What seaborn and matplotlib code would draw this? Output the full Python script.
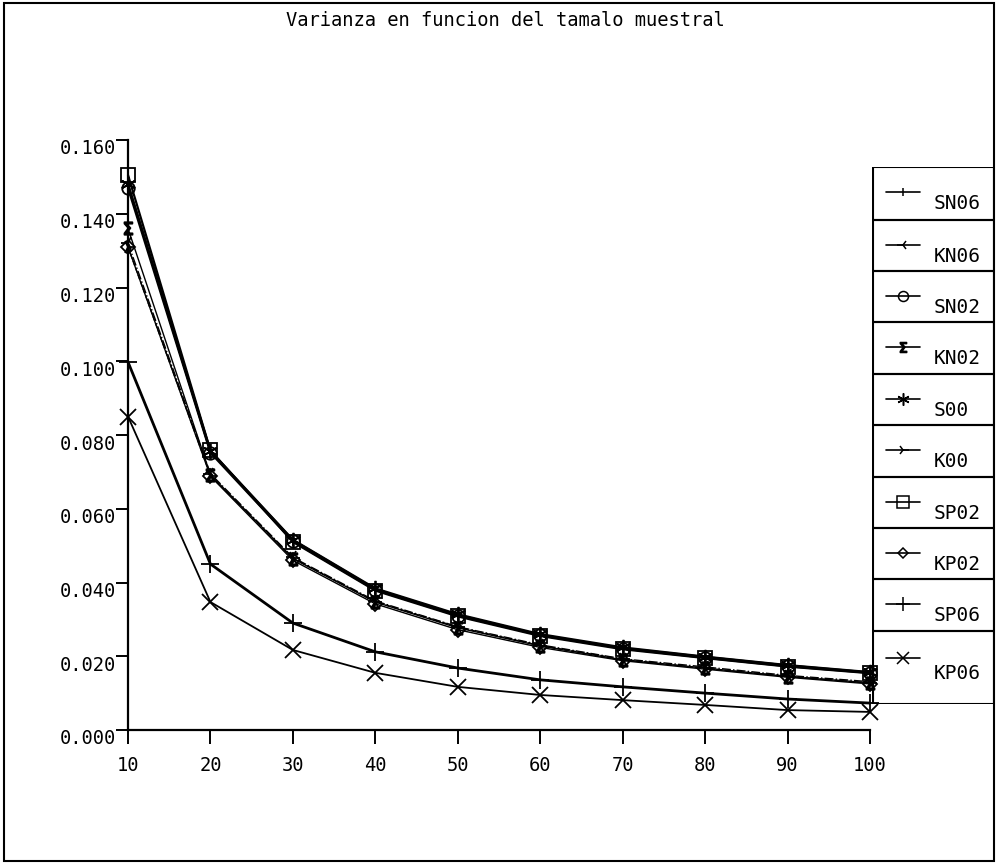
import matplotlib
matplotlib.use("Agg")
import matplotlib.pyplot as plt
import matplotlib.transforms as mtransforms
from matplotlib.patches import Rectangle
from matplotlib.lines import Line2D
import seaborn as sns
import pandas as pd

# tamano muestral
n = [10, 20, 30, 40, 50, 60, 70, 80, 90, 100]

# varianzas
SN06 = [0.1480, 0.0755, 0.0515, 0.0382, 0.0312, 0.0258, 0.0222, 0.0198, 0.0175, 0.0156]
KN06 = [0.1320, 0.0695, 0.0468, 0.0350, 0.0280, 0.0231, 0.0193, 0.0171, 0.0148, 0.0131]
SN02 = [0.1470, 0.0752, 0.0512, 0.0380, 0.0310, 0.0257, 0.0221, 0.0196, 0.0173, 0.0155]
KN02 = [0.1360, 0.0692, 0.0465, 0.0347, 0.0277, 0.0228, 0.0190, 0.0168, 0.0145, 0.0128]
S00 = [0.1480, 0.0757, 0.0516, 0.0384, 0.0314, 0.0260, 0.0224, 0.0199, 0.0176, 0.0157]
K00 = [0.1310, 0.0690, 0.0466, 0.0348, 0.0279, 0.0229, 0.0192, 0.0167, 0.0146, 0.0127]
SP02 = [0.1505, 0.0758, 0.0510, 0.0378, 0.0308, 0.0255, 0.0219, 0.0195, 0.0172, 0.0154]
KP02 = [0.1310, 0.0688, 0.0460, 0.0342, 0.0272, 0.0224, 0.0188, 0.0165, 0.0143, 0.0125]
SP06 = [0.0998, 0.0450, 0.0290, 0.0212, 0.0168, 0.0136, 0.0117, 0.0100, 0.0084, 0.0073]
KP06 = [0.0850, 0.0347, 0.0217, 0.0155, 0.0117, 0.0095, 0.0081, 0.0068, 0.0054, 0.0049]

series_names = ["SN06", "KN06", "SN02", "KN02", "S00", "K00", "SP02", "KP02", "SP06", "KP06"]
series_values = [SN06, KN06, SN02, KN02, S00, K00, SP02, KP02, SP06, KP06]

title = "Varianza en funcion del tamalo muestral"
yticks = [0.0, 0.02, 0.04, 0.06, 0.08, 0.10, 0.12, 0.14, 0.16]

# estilo de cada serie: marcador, tamano, grosor, trazo
styles = {
    "SN06": dict(marker="|", ms=8, lw=1.6, ls="-"),
    "KN06": dict(marker="3", ms=10, lw=1.0, ls="-."),
    "SN02": dict(marker="o", ms=9, lw=1.6, ls="-"),
    "KN02": dict(marker="$\\Sigma$", ms=9, lw=1.0, ls="-"),
    "S00": dict(marker=(6, 2, 0), ms=11, lw=1.6, ls="-"),
    "K00": dict(marker="4", ms=10, lw=1.0, ls="--"),
    "SP02": dict(marker="s", ms=10, lw=1.6, ls="-"),
    "KP02": dict(marker="D", ms=7, lw=1.0, ls="-"),
    "SP06": dict(marker="+", ms=13, lw=2.0, ls="-"),
    "KP06": dict(marker="x", ms=11, lw=1.3, ls="-"),
}

df = pd.DataFrame({"n": n})
for name, vals in zip(series_names, series_values):
    df[name] = vals
df_long = df.melt(id_vars="n", var_name="serie", value_name="varianza")

sns.set_style("white")
plt.rcParams["font.family"] = ["DejaVu Sans Mono", "DejaVu Sans"]

fig = plt.figure(figsize=(9.97, 8.65), dpi=100)
ax = fig.add_axes([128 / 997, 135 / 865, 742 / 997, 590 / 865])

for name in series_names:
    st = styles[name]
    sub = df_long[df_long["serie"] == name]
    sns.lineplot(data=sub, x="n", y="varianza", ax=ax, color="black",
                 marker=st["marker"], markersize=st["ms"], linewidth=st["lw"],
                 linestyle=st["ls"], markerfacecolor="none", markeredgecolor="black",
                 markeredgewidth=1.3, legend=False, zorder=3, clip_on=False)

ax.set_xlim(10, 100)
ax.set_ylim(0, 0.16)
ax.set_xticks(n)
ax.set_xticklabels([str(v) for v in n])
ax.set_yticks(yticks)
ax.set_yticklabels(["%.3f" % v for v in yticks])
ax.set_xlabel("")
ax.set_ylabel("")
for side in ["top", "right"]:
    ax.spines[side].set_visible(False)
for side in ["left", "bottom"]:
    ax.spines[side].set_color("black")
    ax.spines[side].set_linewidth(1.6)
ax.tick_params(axis="x", direction="out", length=10, width=1.4, pad=9,
               labelsize=13.5, colors="black", bottom=True)
ax.tick_params(axis="y", direction="out", length=9, width=1.4, pad=0,
               labelsize=13.5, colors="black", left=True)
offset = mtransforms.ScaledTranslation(0, -7 / 100, fig.dpi_scale_trans)
for lab in ax.get_yticklabels():
    lab.set_transform(lab.get_transform() + offset)

# leyenda en cajas apiladas
leg = fig.add_axes([872 / 997, (865 - 704) / 865, 123 / 997, 537 / 865])
leg.set_xlim(872, 995)
leg.set_ylim(704, 167)
leg.axis("off")
edges = [167, 220, 271, 322, 374, 425, 477, 528, 579, 631, 704]
for i, name in enumerate(series_names):
    top, bot = edges[i], edges[i + 1]
    leg.add_patch(Rectangle((873, top), 121, bot - top, fill=False,
                            edgecolor="black", linewidth=1.5))
    ly = top + (27 if i == 9 else 25)
    ty = top + (42 if i == 9 else 36)
    st = styles[name]
    leg.add_line(Line2D([886, 920], [ly, ly], color="black", linewidth=1.2))
    leg.add_line(Line2D([903], [ly], color="black", marker=st["marker"],
                        markersize=st["ms"] * 0.8, markerfacecolor="none",
                        markeredgecolor="black", markeredgewidth=1.1))
    leg.text(934, ty, name, fontsize=14, va="center", ha="left", color="black")

fig.text(0.507, 1 - 20 / 865, title, ha="center", va="center", fontsize=13.5,
         color="black")

# marco exterior
fig.patches.append(Rectangle((4 / 997, 4 / 865), 990 / 997, 858 / 865, fill=False,
                             edgecolor="black", linewidth=1.5,
                             transform=fig.transFigure, figure=fig))

plt.savefig("out.png", dpi=100)
